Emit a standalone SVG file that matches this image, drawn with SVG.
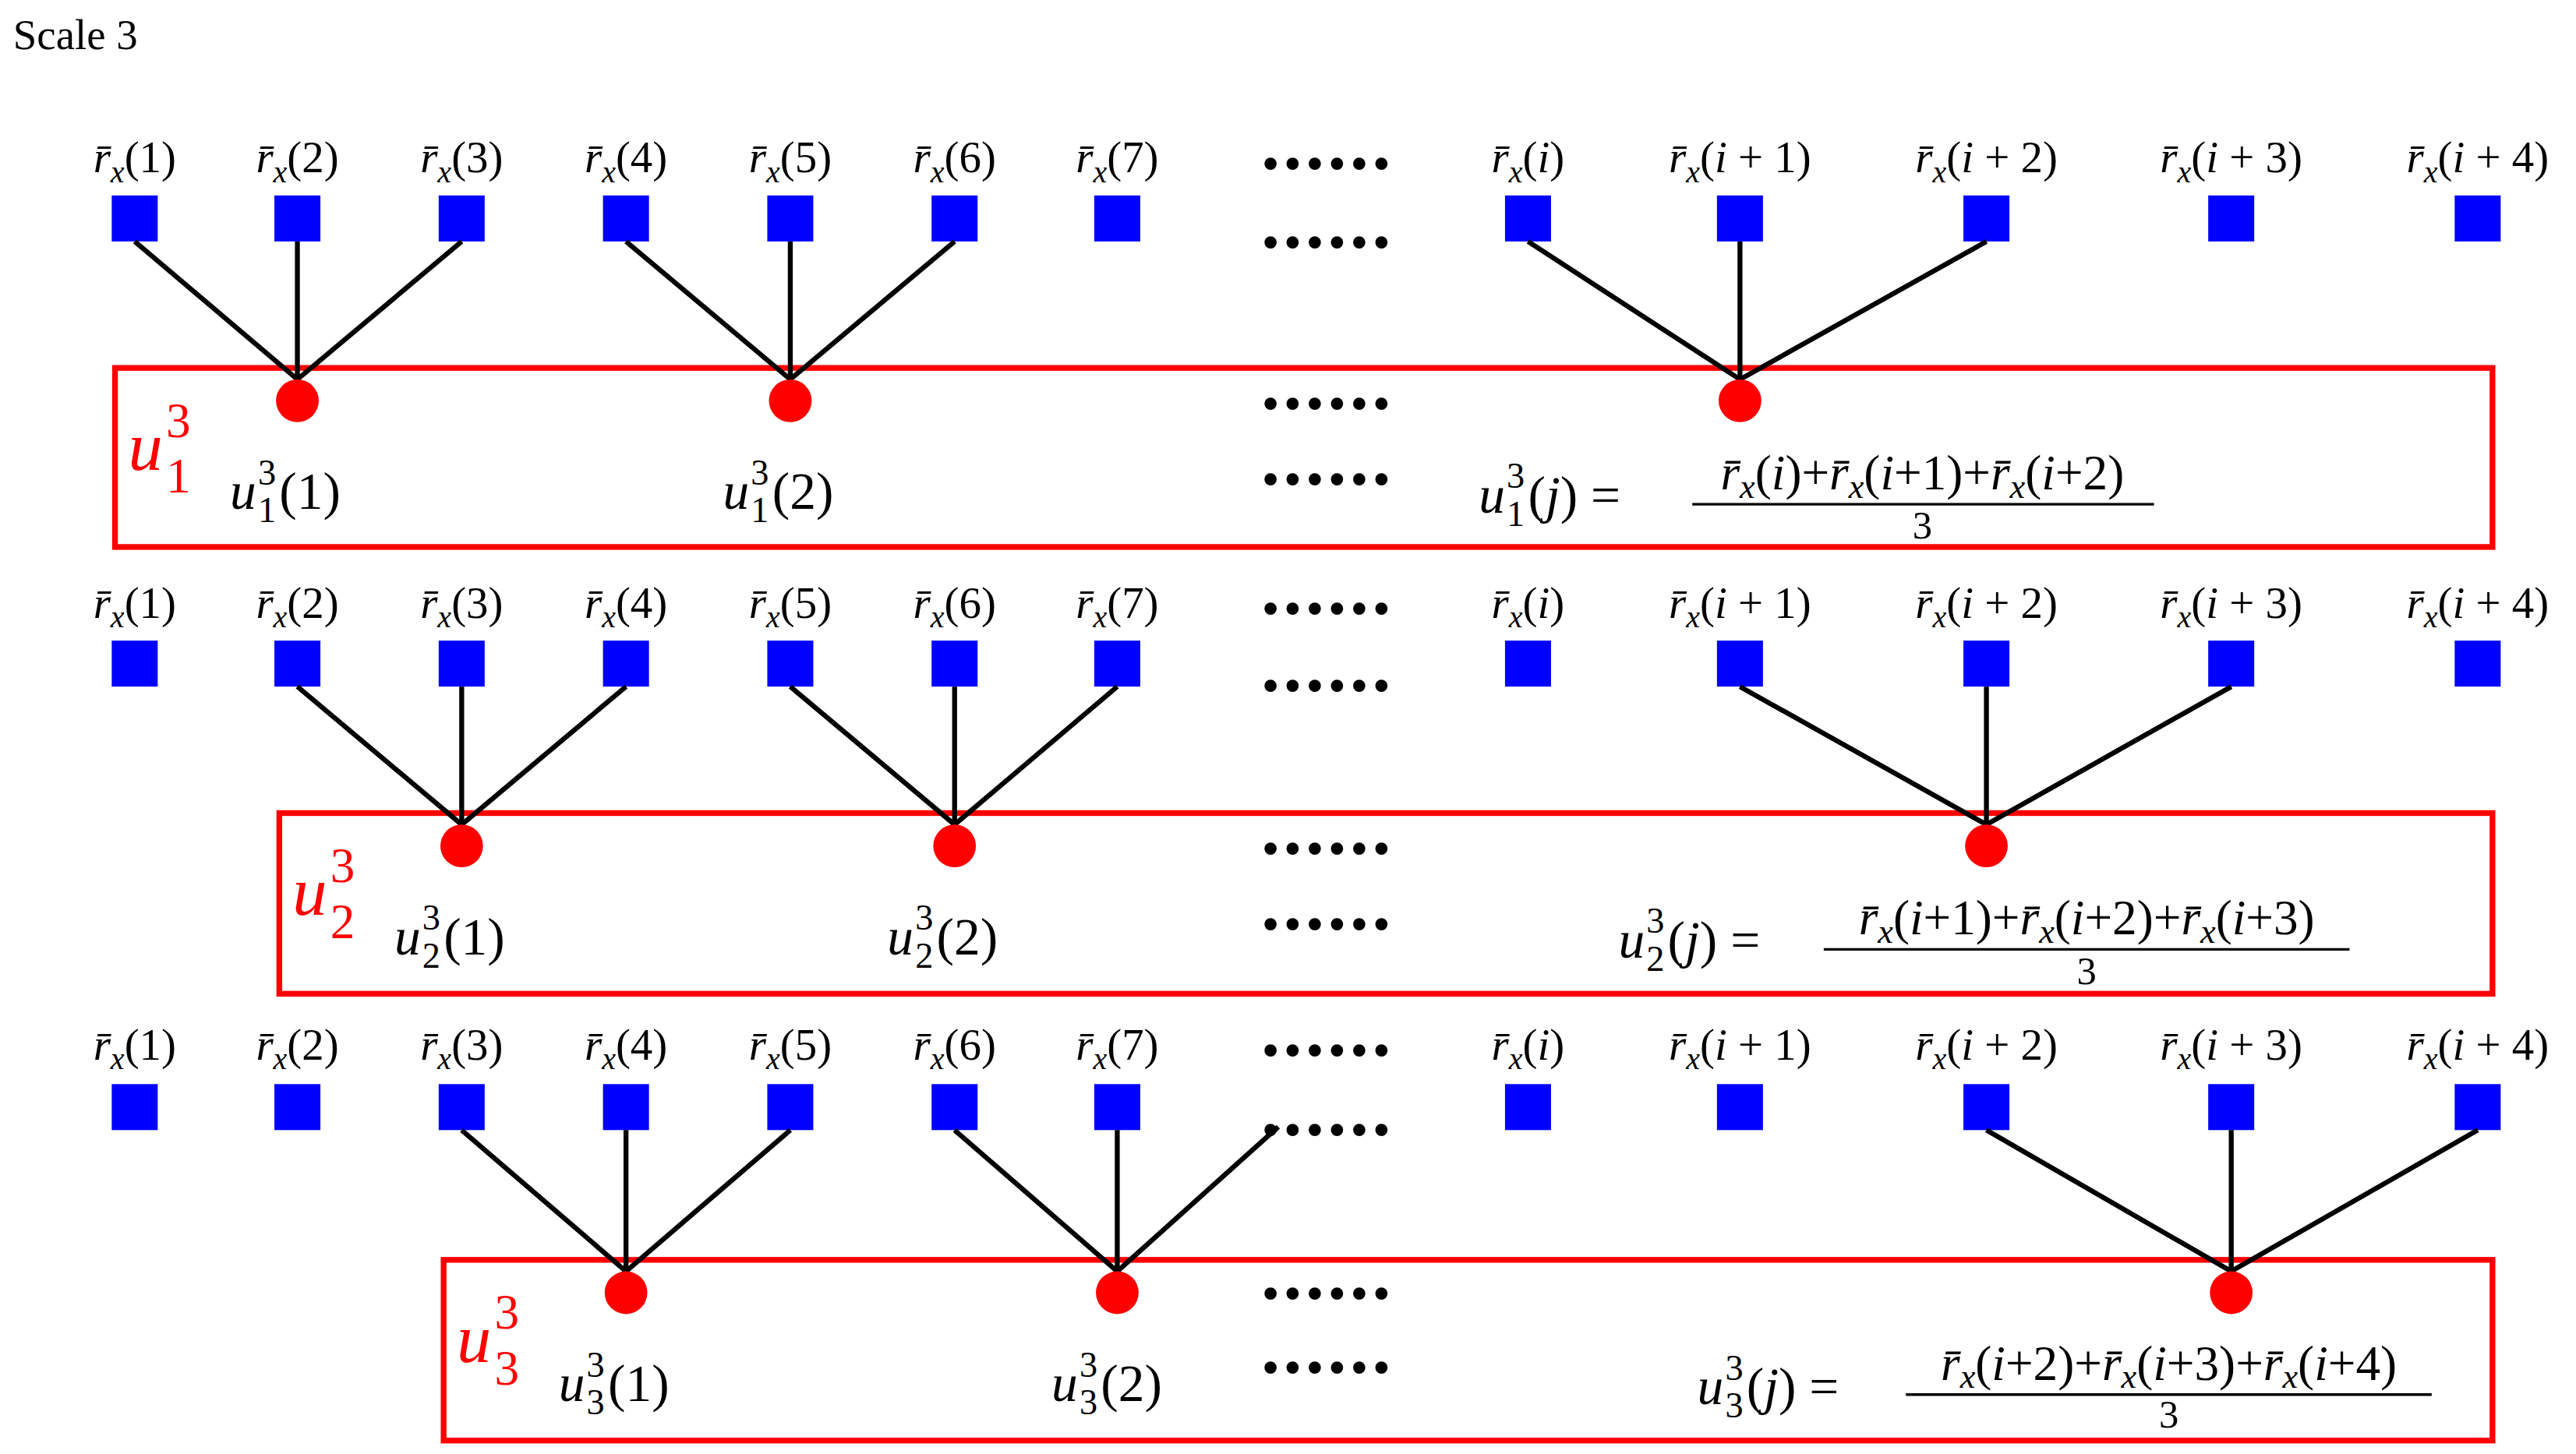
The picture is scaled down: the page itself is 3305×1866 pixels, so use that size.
<svg xmlns="http://www.w3.org/2000/svg" width="3305" height="1866" viewBox="0 0 3305 1866">
<style>
text{font-family:"Liberation Serif",serif;fill:#000}
.lb{font-size:27px;text-anchor:middle}
.i{font-style:italic}
.sb{font-size:19px}
.m{font-size:32px}
.s{font-size:22px}
.fr{font-size:30px;text-anchor:middle}
.fs{font-size:21px;font-style:italic}
.dots{font-size:46px;font-weight:bold;letter-spacing:2px;text-anchor:middle}
.bx{fill:#0000ff}
.nd{fill:#ff0000}
.rr{fill:none;stroke:#ff0000;stroke-width:3.5}
.ln{stroke:#000;stroke-width:3}
.red{fill:#ff0000}
</style>
<rect width="3305" height="1866" fill="#fff"/>
<g transform="scale(2.108)">
<text x="8" y="30" style="font-size:26px">Scale 3</text>
<g id="row1-labels">
<text x="82" y="105" class="lb"><tspan class="i">r̄</tspan><tspan class="i sb" dy="6">x</tspan><tspan dy="-6">(1)</tspan></text>
<text x="181" y="105" class="lb"><tspan class="i">r̄</tspan><tspan class="i sb" dy="6">x</tspan><tspan dy="-6">(2)</tspan></text>
<text x="281" y="105" class="lb"><tspan class="i">r̄</tspan><tspan class="i sb" dy="6">x</tspan><tspan dy="-6">(3)</tspan></text>
<text x="381" y="105" class="lb"><tspan class="i">r̄</tspan><tspan class="i sb" dy="6">x</tspan><tspan dy="-6">(4)</tspan></text>
<text x="481" y="105" class="lb"><tspan class="i">r̄</tspan><tspan class="i sb" dy="6">x</tspan><tspan dy="-6">(5)</tspan></text>
<text x="581" y="105" class="lb"><tspan class="i">r̄</tspan><tspan class="i sb" dy="6">x</tspan><tspan dy="-6">(6)</tspan></text>
<text x="680" y="105" class="lb"><tspan class="i">r̄</tspan><tspan class="i sb" dy="6">x</tspan><tspan dy="-6">(7)</tspan></text>
<text x="930" y="105" class="lb"><tspan class="i">r̄</tspan><tspan class="i sb" dy="6">x</tspan><tspan dy="-6">(</tspan><tspan class="i">i</tspan>)</text>
<text x="1059" y="105" class="lb"><tspan class="i">r̄</tspan><tspan class="i sb" dy="6">x</tspan><tspan dy="-6">(</tspan><tspan class="i">i</tspan> + 1)</text>
<text x="1209" y="105" class="lb"><tspan class="i">r̄</tspan><tspan class="i sb" dy="6">x</tspan><tspan dy="-6">(</tspan><tspan class="i">i</tspan> + 2)</text>
<text x="1358" y="105" class="lb"><tspan class="i">r̄</tspan><tspan class="i sb" dy="6">x</tspan><tspan dy="-6">(</tspan><tspan class="i">i</tspan> + 3)</text>
<text x="1508" y="105" class="lb"><tspan class="i">r̄</tspan><tspan class="i sb" dy="6">x</tspan><tspan dy="-6">(</tspan><tspan class="i">i</tspan> + 4)</text>
</g>
<g id="row2-labels">
<text x="82" y="376" class="lb"><tspan class="i">r̄</tspan><tspan class="i sb" dy="6">x</tspan><tspan dy="-6">(1)</tspan></text>
<text x="181" y="376" class="lb"><tspan class="i">r̄</tspan><tspan class="i sb" dy="6">x</tspan><tspan dy="-6">(2)</tspan></text>
<text x="281" y="376" class="lb"><tspan class="i">r̄</tspan><tspan class="i sb" dy="6">x</tspan><tspan dy="-6">(3)</tspan></text>
<text x="381" y="376" class="lb"><tspan class="i">r̄</tspan><tspan class="i sb" dy="6">x</tspan><tspan dy="-6">(4)</tspan></text>
<text x="481" y="376" class="lb"><tspan class="i">r̄</tspan><tspan class="i sb" dy="6">x</tspan><tspan dy="-6">(5)</tspan></text>
<text x="581" y="376" class="lb"><tspan class="i">r̄</tspan><tspan class="i sb" dy="6">x</tspan><tspan dy="-6">(6)</tspan></text>
<text x="680" y="376" class="lb"><tspan class="i">r̄</tspan><tspan class="i sb" dy="6">x</tspan><tspan dy="-6">(7)</tspan></text>
<text x="930" y="376" class="lb"><tspan class="i">r̄</tspan><tspan class="i sb" dy="6">x</tspan><tspan dy="-6">(</tspan><tspan class="i">i</tspan>)</text>
<text x="1059" y="376" class="lb"><tspan class="i">r̄</tspan><tspan class="i sb" dy="6">x</tspan><tspan dy="-6">(</tspan><tspan class="i">i</tspan> + 1)</text>
<text x="1209" y="376" class="lb"><tspan class="i">r̄</tspan><tspan class="i sb" dy="6">x</tspan><tspan dy="-6">(</tspan><tspan class="i">i</tspan> + 2)</text>
<text x="1358" y="376" class="lb"><tspan class="i">r̄</tspan><tspan class="i sb" dy="6">x</tspan><tspan dy="-6">(</tspan><tspan class="i">i</tspan> + 3)</text>
<text x="1508" y="376" class="lb"><tspan class="i">r̄</tspan><tspan class="i sb" dy="6">x</tspan><tspan dy="-6">(</tspan><tspan class="i">i</tspan> + 4)</text>
</g>
<g id="row3-labels">
<text x="82" y="645" class="lb"><tspan class="i">r̄</tspan><tspan class="i sb" dy="6">x</tspan><tspan dy="-6">(1)</tspan></text>
<text x="181" y="645" class="lb"><tspan class="i">r̄</tspan><tspan class="i sb" dy="6">x</tspan><tspan dy="-6">(2)</tspan></text>
<text x="281" y="645" class="lb"><tspan class="i">r̄</tspan><tspan class="i sb" dy="6">x</tspan><tspan dy="-6">(3)</tspan></text>
<text x="381" y="645" class="lb"><tspan class="i">r̄</tspan><tspan class="i sb" dy="6">x</tspan><tspan dy="-6">(4)</tspan></text>
<text x="481" y="645" class="lb"><tspan class="i">r̄</tspan><tspan class="i sb" dy="6">x</tspan><tspan dy="-6">(5)</tspan></text>
<text x="581" y="645" class="lb"><tspan class="i">r̄</tspan><tspan class="i sb" dy="6">x</tspan><tspan dy="-6">(6)</tspan></text>
<text x="680" y="645" class="lb"><tspan class="i">r̄</tspan><tspan class="i sb" dy="6">x</tspan><tspan dy="-6">(7)</tspan></text>
<text x="930" y="645" class="lb"><tspan class="i">r̄</tspan><tspan class="i sb" dy="6">x</tspan><tspan dy="-6">(</tspan><tspan class="i">i</tspan>)</text>
<text x="1059" y="645" class="lb"><tspan class="i">r̄</tspan><tspan class="i sb" dy="6">x</tspan><tspan dy="-6">(</tspan><tspan class="i">i</tspan> + 1)</text>
<text x="1209" y="645" class="lb"><tspan class="i">r̄</tspan><tspan class="i sb" dy="6">x</tspan><tspan dy="-6">(</tspan><tspan class="i">i</tspan> + 2)</text>
<text x="1358" y="645" class="lb"><tspan class="i">r̄</tspan><tspan class="i sb" dy="6">x</tspan><tspan dy="-6">(</tspan><tspan class="i">i</tspan> + 3)</text>
<text x="1508" y="645" class="lb"><tspan class="i">r̄</tspan><tspan class="i sb" dy="6">x</tspan><tspan dy="-6">(</tspan><tspan class="i">i</tspan> + 4)</text>
</g>
<g id="boxes">
<rect class="bx" x="68" y="119" width="28" height="28"/><rect class="bx" x="167" y="119" width="28" height="28"/><rect class="bx" x="267" y="119" width="28" height="28"/><rect class="bx" x="367" y="119" width="28" height="28"/><rect class="bx" x="467" y="119" width="28" height="28"/><rect class="bx" x="567" y="119" width="28" height="28"/><rect class="bx" x="666" y="119" width="28" height="28"/><rect class="bx" x="916" y="119" width="28" height="28"/><rect class="bx" x="1045" y="119" width="28" height="28"/><rect class="bx" x="1195" y="119" width="28" height="28"/><rect class="bx" x="1344" y="119" width="28" height="28"/><rect class="bx" x="1494" y="119" width="28" height="28"/>
<rect class="bx" x="68" y="390" width="28" height="28"/><rect class="bx" x="167" y="390" width="28" height="28"/><rect class="bx" x="267" y="390" width="28" height="28"/><rect class="bx" x="367" y="390" width="28" height="28"/><rect class="bx" x="467" y="390" width="28" height="28"/><rect class="bx" x="567" y="390" width="28" height="28"/><rect class="bx" x="666" y="390" width="28" height="28"/><rect class="bx" x="916" y="390" width="28" height="28"/><rect class="bx" x="1045" y="390" width="28" height="28"/><rect class="bx" x="1195" y="390" width="28" height="28"/><rect class="bx" x="1344" y="390" width="28" height="28"/><rect class="bx" x="1494" y="390" width="28" height="28"/>
<rect class="bx" x="68" y="660" width="28" height="28"/><rect class="bx" x="167" y="660" width="28" height="28"/><rect class="bx" x="267" y="660" width="28" height="28"/><rect class="bx" x="367" y="660" width="28" height="28"/><rect class="bx" x="467" y="660" width="28" height="28"/><rect class="bx" x="567" y="660" width="28" height="28"/><rect class="bx" x="666" y="660" width="28" height="28"/><rect class="bx" x="916" y="660" width="28" height="28"/><rect class="bx" x="1045" y="660" width="28" height="28"/><rect class="bx" x="1195" y="660" width="28" height="28"/><rect class="bx" x="1344" y="660" width="28" height="28"/><rect class="bx" x="1494" y="660" width="28" height="28"/>
</g>
<g id="frames">
<rect class="rr" x="70" y="224" width="1447" height="109"/>
<rect class="rr" x="170" y="495" width="1347" height="110"/>
<rect class="rr" x="270" y="767" width="1247" height="110"/>
</g>
<g id="connectors">
<line class="ln" x1="82" y1="147" x2="181" y2="231"/><line class="ln" x1="181" y1="147" x2="181" y2="231"/><line class="ln" x1="281" y1="147" x2="181" y2="231"/>
<line class="ln" x1="381" y1="147" x2="481" y2="231"/><line class="ln" x1="481" y1="147" x2="481" y2="231"/><line class="ln" x1="581" y1="147" x2="481" y2="231"/>
<line class="ln" x1="930" y1="147" x2="1059" y2="231"/><line class="ln" x1="1059" y1="147" x2="1059" y2="231"/><line class="ln" x1="1209" y1="147" x2="1059" y2="231"/>
<line class="ln" x1="181" y1="418" x2="281" y2="502"/><line class="ln" x1="281" y1="418" x2="281" y2="502"/><line class="ln" x1="381" y1="418" x2="281" y2="502"/>
<line class="ln" x1="481" y1="418" x2="581" y2="502"/><line class="ln" x1="581" y1="418" x2="581" y2="502"/><line class="ln" x1="680" y1="418" x2="581" y2="502"/>
<line class="ln" x1="1059" y1="418" x2="1209" y2="502"/><line class="ln" x1="1209" y1="418" x2="1209" y2="502"/><line class="ln" x1="1358" y1="418" x2="1209" y2="502"/>
<line class="ln" x1="281" y1="688" x2="381" y2="774"/><line class="ln" x1="381" y1="688" x2="381" y2="774"/><line class="ln" x1="481" y1="688" x2="381" y2="774"/>
<line class="ln" x1="581" y1="688" x2="680" y2="774"/><line class="ln" x1="680" y1="688" x2="680" y2="774"/><line class="ln" x1="778" y1="686" x2="680" y2="774"/>
<line class="ln" x1="1209" y1="688" x2="1358" y2="774"/><line class="ln" x1="1358" y1="688" x2="1358" y2="774"/><line class="ln" x1="1508" y1="688" x2="1358" y2="774"/>
</g>
<g id="nodes">
<circle class="nd" cx="181" cy="244" r="13"/><circle class="nd" cx="481" cy="244" r="13"/><circle class="nd" cx="1059" cy="244" r="13"/>
<circle class="nd" cx="281" cy="515" r="13"/><circle class="nd" cx="581" cy="515" r="13"/><circle class="nd" cx="1209" cy="515" r="13"/>
<circle class="nd" cx="381" cy="787" r="13"/><circle class="nd" cx="680" cy="787" r="13"/><circle class="nd" cx="1358" cy="787" r="13"/>
</g>
<g id="dots">
<text class="dots" x="808" y="103">......</text><text class="dots" x="808" y="151">......</text><text class="dots" x="808" y="249">......</text><text class="dots" x="808" y="295">......</text>
<text class="dots" x="808" y="374">......</text><text class="dots" x="808" y="421">......</text><text class="dots" x="808" y="520">......</text><text class="dots" x="808" y="566">......</text>
<text class="dots" x="808" y="643">......</text><text class="dots" x="808" y="691">......</text><text class="dots" x="808" y="791">......</text><text class="dots" x="808" y="836">......</text>
</g>
<g id="row1-text">
<text x="78" y="286" class="i red" style="font-size:42px">u</text><text x="101" y="266" class="red" style="font-size:30px">3</text><text x="101" y="300" class="red" style="font-size:30px">1</text>
<text x="140" y="310" class="m i">u</text><text x="157" y="295" class="s">3</text><text x="157" y="318" class="s">1</text><text x="170" y="310" class="m">(1)</text>
<text x="440" y="310" class="m i">u</text><text x="457" y="295" class="s">3</text><text x="457" y="318" class="s">1</text><text x="470" y="310" class="m">(2)</text>
<text x="900" y="312" class="m i">u</text><text x="917" y="297" class="s">3</text><text x="917" y="320" class="s">1</text><text x="930" y="312" class="m">(<tspan class="i">j</tspan>)  =</text>
<text x="1170" y="298" class="fr"><tspan class="i">r̄</tspan><tspan class="fs" dy="5">x</tspan><tspan dy="-5">(</tspan><tspan class="i">i</tspan>)+<tspan class="i">r̄</tspan><tspan class="fs" dy="5">x</tspan><tspan dy="-5">(</tspan><tspan class="i">i</tspan>+1)+<tspan class="i">r̄</tspan><tspan class="fs" dy="5">x</tspan><tspan dy="-5">(</tspan><tspan class="i">i</tspan>+2)</text>
<line x1="1030" y1="307" x2="1311" y2="307" stroke="#000" stroke-width="1.6"/>
<text x="1170" y="328" class="fr" style="font-size:24px">3</text>
</g>
<g id="row2-text">
<text x="178" y="557" class="i red" style="font-size:42px">u</text><text x="201" y="537" class="red" style="font-size:30px">3</text><text x="201" y="571" class="red" style="font-size:30px">2</text>
<text x="240" y="581" class="m i">u</text><text x="257" y="566" class="s">3</text><text x="257" y="589" class="s">2</text><text x="270" y="581" class="m">(1)</text>
<text x="540" y="581" class="m i">u</text><text x="557" y="566" class="s">3</text><text x="557" y="589" class="s">2</text><text x="570" y="581" class="m">(2)</text>
<text x="985" y="583" class="m i">u</text><text x="1002" y="568" class="s">3</text><text x="1002" y="591" class="s">2</text><text x="1015" y="583" class="m">(<tspan class="i">j</tspan>)  =</text>
<text x="1270" y="569" class="fr"><tspan class="i">r̄</tspan><tspan class="fs" dy="5">x</tspan><tspan dy="-5">(</tspan><tspan class="i">i</tspan>+1)+<tspan class="i">r̄</tspan><tspan class="fs" dy="5">x</tspan><tspan dy="-5">(</tspan><tspan class="i">i</tspan>+2)+<tspan class="i">r̄</tspan><tspan class="fs" dy="5">x</tspan><tspan dy="-5">(</tspan><tspan class="i">i</tspan>+3)</text>
<line x1="1110" y1="578" x2="1430" y2="578" stroke="#000" stroke-width="1.6"/>
<text x="1270" y="599" class="fr" style="font-size:24px">3</text>
</g>
<g id="row3-text">
<text x="278" y="829" class="i red" style="font-size:42px">u</text><text x="301" y="809" class="red" style="font-size:30px">3</text><text x="301" y="843" class="red" style="font-size:30px">3</text>
<text x="340" y="853" class="m i">u</text><text x="357" y="838" class="s">3</text><text x="357" y="861" class="s">3</text><text x="370" y="853" class="m">(1)</text>
<text x="640" y="853" class="m i">u</text><text x="657" y="838" class="s">3</text><text x="657" y="861" class="s">3</text><text x="670" y="853" class="m">(2)</text>
<text x="1033" y="855" class="m i">u</text><text x="1050" y="840" class="s">3</text><text x="1050" y="863" class="s">3</text><text x="1063" y="855" class="m">(<tspan class="i">j</tspan>)  =</text>
<text x="1320" y="840" class="fr"><tspan class="i">r̄</tspan><tspan class="fs" dy="5">x</tspan><tspan dy="-5">(</tspan><tspan class="i">i</tspan>+2)+<tspan class="i">r̄</tspan><tspan class="fs" dy="5">x</tspan><tspan dy="-5">(</tspan><tspan class="i">i</tspan>+3)+<tspan class="i">r̄</tspan><tspan class="fs" dy="5">x</tspan><tspan dy="-5">(</tspan><tspan class="i">i</tspan>+4)</text>
<line x1="1160" y1="849" x2="1480" y2="849" stroke="#000" stroke-width="1.6"/>
<text x="1320" y="869" class="fr" style="font-size:24px">3</text>
</g>
</g>
</svg>
